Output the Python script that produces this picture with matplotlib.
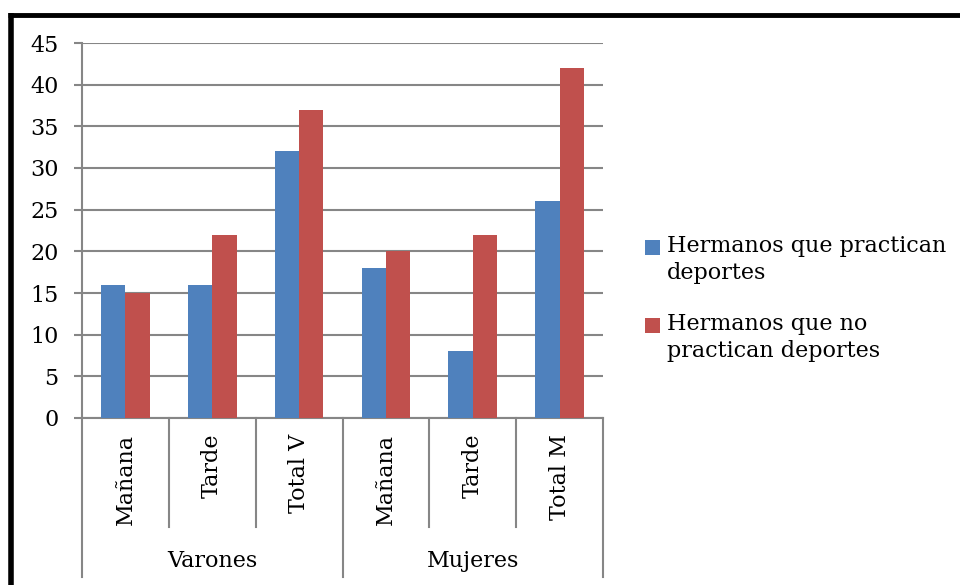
import matplotlib.pyplot as plt
from matplotlib.lines import Line2D
from matplotlib.patches import Rectangle
import numpy as np

# data
groups = ["Varones", "Mujeres"]
categories = ["Mañana", "Tarde", "Total V", "Mañana", "Tarde", "Total M"]
series_names = ["Hermanos que practican\ndeportes", "Hermanos que no\npractican deportes"]
practican = [16, 16, 32, 18, 8, 26]
no_practican = [15, 22, 37, 20, 22, 42]
yticks = [0, 5, 10, 15, 20, 25, 30, 35, 40, 45]

colors = ["#4F81BD", "#C0504D"]
grid_col = "#868686"
font = "DejaVu Serif"
fs = 16

W, H = 960, 585
fig = plt.figure(figsize=(W / 100, H / 100), dpi=100)
ax = fig.add_axes([82 / W, 1 - 418 / H, (603 - 82) / W, (418 - 43) / H])

x = np.arange(len(categories)) + 0.5
bw = 0.28
ax.bar(x - bw / 2, practican, bw, color=colors[0], zorder=3)
ax.bar(x + bw / 2, no_practican, bw, color=colors[1], zorder=3)

ax.set_xlim(0, len(categories))
ax.set_ylim(0, 45)
ax.set_yticks(yticks)
ax.set_yticklabels([str(t) for t in yticks], fontfamily=font, fontsize=fs)
ax.yaxis.grid(True, color=grid_col, linewidth=1.5, zorder=0)
ax.tick_params(axis="y", length=6, width=1.5, color=grid_col, pad=11)
ax.set_xticks([])
for s in ["top", "right"]:
    ax.spines[s].set_visible(False)
for s in ["left", "bottom"]:
    ax.spines[s].set_color(grid_col)
    ax.spines[s].set_linewidth(1.5)

# multi-level category axis
tr = ax.get_xaxis_transform()
ph = 418 - 43
inner_bottom = -(527 - 418) / ph
outer_bottom = -(577 - 418) / ph
n_per_group = len(categories) // len(groups)
for b in range(len(categories) + 1):
    bottom = outer_bottom if b % n_per_group == 0 else inner_bottom
    ax.add_line(Line2D([b, b], [0, bottom], transform=tr, color=grid_col,
                       linewidth=1.5, clip_on=False))
for xi, lab in zip(x, categories):
    ax.text(xi, -(434 - 418) / ph, lab, transform=tr, rotation=90, ha="center",
            va="top", fontfamily=font, fontsize=fs)
for g, name in enumerate(groups):
    ax.text(g * n_per_group + n_per_group / 2, -(561 - 418) / ph, name, transform=tr,
            ha="center", va="center", fontfamily=font, fontsize=fs)

# legend drawn by hand so the square lines up with the first text line
for i, (name, c) in enumerate(zip(series_names, colors)):
    top = 240 + i * 78
    fig.patches.append(Rectangle((645 / W, 1 - (top + 15) / H), 15 / W, 15 / H,
                                 transform=fig.transFigure, facecolor=c, edgecolor="none"))
    fig.text(667 / W, 1 - (top - 5) / H, name, ha="left", va="top",
             fontfamily=font, fontsize=fs, linespacing=1.3)

# frame around the chart (top and left edges visible)
fig.add_artist(Line2D([8 / W, 1], [1 - 15 / H, 1 - 15 / H], color="black",
                      linewidth=3.5, solid_capstyle="butt"))
fig.add_artist(Line2D([10.5 / W, 10.5 / W], [0, 1 - 13 / H], color="black",
                      linewidth=4, solid_capstyle="butt"))

fig.savefig("out.png", dpi=100)
